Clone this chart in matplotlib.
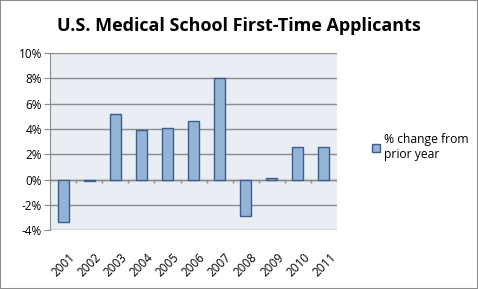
import numpy as np
import matplotlib.pyplot as plt
from matplotlib.patches import Rectangle

plt.rcParams['font.family'] = ['Open Sans', 'DejaVu Sans']

years = ['2001', '2002', '2003', '2004', '2005', '2006',
         '2007', '2008', '2009', '2010', '2011']
pct_change = [-3.35, -0.1, 5.15, 3.9, 4.05, 4.6, 8.0, -2.9, 0.1, 2.55, 2.6]
yticks = [-4, -2, 0, 2, 4, 6, 8, 10]

fig = plt.figure(figsize=(4.78, 2.89), dpi=100)
fig.patches.append(Rectangle((0, 0), 1, 1, transform=fig.transFigure,
                             fill=False, edgecolor='#8c8c8c', linewidth=1.5))
ax = fig.add_axes([0.105, 0.204, 0.600, 0.612])
ax.set_facecolor('#e9edf4')

x = np.arange(len(years))
ax.bar(x, pct_change, width=0.42, color='#95b3d7', edgecolor='#3b5e8c',
       linewidth=1, zorder=3, label='% change from\nprior year')

ax.set_xlim(-0.5, len(years) - 0.5)
ax.set_ylim(-4, 10)
ax.set_yticks(yticks)
ax.set_yticklabels([f'{v}%' for v in yticks], fontsize=8.5)
ax.yaxis.grid(True, color='#8a8a8a', linewidth=1)
ax.set_axisbelow(True)
ax.tick_params(axis='y', length=4, color='#8a8a8a', pad=2)

# horizontal axis at zero with tick marks between categories
ax.axhline(0, color='#8a8a8a', linewidth=1, zorder=2)
ax.vlines(np.arange(len(years) + 1) - 0.5, -0.3, 0, color='#8a8a8a',
          linewidth=1, zorder=2)

ax.set_xticks(x + 0.2)
ax.set_xticklabels(years, rotation=45, fontsize=8.5, ha='right',
                   va='top', rotation_mode='anchor')
ax.tick_params(axis='x', length=0, pad=15)

for s in ['top', 'right', 'bottom']:
    ax.spines[s].set_visible(False)
ax.spines['left'].set_color('#8a8a8a')

fig.suptitle('U.S. Medical School First-Time Applicants', x=0.5, y=0.94,
             fontsize=13, fontweight='bold')

leg = fig.legend(loc='center left', bbox_to_anchor=(0.755, 0.49),
                 frameon=False, fontsize=8.7, handlelength=0.7,
                 handleheight=0.7, handletextpad=0.3)

fig.savefig('out.png', dpi=100)
